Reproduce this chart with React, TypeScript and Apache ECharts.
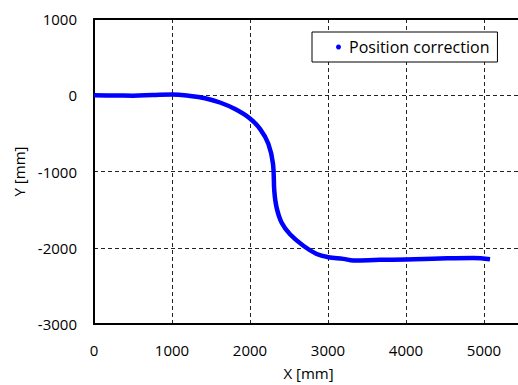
import React, { useEffect, useRef } from "react";
import * as echarts from "echarts";

const seriesName = "Position correction";
const xValues = [0, 250, 500, 750, 1000, 1231, 1423, 1615, 1808, 1991, 2128, 2235, 2295, 2312, 2342, 2406, 2513, 2684, 2855, 3004, 3197, 3325, 3667, 4009, 4436, 4863, 5077];
const yValues = [0, -3, -5, 2, 9, -9, -39, -95, -181, -298, -440, -635, -900, -1261, -1477, -1671, -1822, -1973, -2081, -2124, -2146, -2167, -2159, -2155, -2141, -2133, -2150];
const xTicks = { min: 0, max: 5500, interval: 1000 };
const yTicks = { min: -3000, max: 1000, interval: 1000 };

export default function App() {
  const ref = useRef<HTMLDivElement>(null);
  useEffect(() => {
    const chart = echarts.init(ref.current!, null, { renderer: "svg" });
    const font = "Open Sans";
    const data = xValues.map((x, i) => [x, yValues[i]]);
    const fmt = (v: number) => String(v);
    chart.setOption({
      animation: false,
      textStyle: { fontFamily: font },
      grid: { left: 94, top: 19, width: 429, height: 309, show: false },
      legend: {
        data: [{ name: seriesName, icon: "circle" }],
        left: 312,
        top: 32,
        orient: "horizontal",
        itemWidth: 5,
        itemHeight: 5,
        itemGap: 0,
        padding: [7, 8, 7, 24],
        borderColor: "#000",
        borderWidth: 1,
        backgroundColor: "#fff",
        textStyle: { fontFamily: font, fontSize: 16, color: "#000", padding: [0, 0, 0, 3] },
      },
      xAxis: [
        {
          type: "value",
          min: xTicks.min,
          max: xTicks.max,
          interval: xTicks.interval,
          name: "X [mm]",
          nameLocation: "middle",
          nameGap: 41,
          nameTextStyle: { fontFamily: font, fontSize: 15, color: "#000" },
          axisLine: { show: true, onZero: false, lineStyle: { color: "#000", width: 2 } },
          axisTick: { show: false },
          axisLabel: { fontFamily: font, fontSize: 15, color: "#000", margin: 18, showMaxLabel: false, formatter: fmt },
          splitLine: { show: true, lineStyle: { color: "#222", type: [4, 3], width: 1 } },
        },
        {
          type: "value",
          position: "top",
          min: xTicks.min,
          max: xTicks.max,
          interval: xTicks.interval,
          axisLine: { show: true, onZero: false, lineStyle: { color: "#000", width: 2 } },
          axisTick: { show: false },
          axisLabel: { show: false },
          splitLine: { show: false },
        },
      ],
      yAxis: {
        type: "value",
        min: yTicks.min,
        max: yTicks.max,
        interval: yTicks.interval,
        name: "Y [mm]",
        nameLocation: "middle",
        nameGap: 60,
        nameTextStyle: { fontFamily: font, fontSize: 15, color: "#000" },
        axisLine: { show: true, onZero: false, lineStyle: { color: "#000", width: 2 } },
        axisTick: { show: false },
        axisLabel: { fontFamily: font, fontSize: 15, color: "#000", margin: 17, formatter: fmt },
        splitLine: { show: true, lineStyle: { color: "#222", type: [4, 3], width: 1 } },
      },
      series: [
        {
          name: seriesName,
          type: "line",
          xAxisIndex: 0,
          data,
          smooth: 0.4,
          showSymbol: false,
          symbol: "circle",
          symbolSize: 5,
          itemStyle: { color: "#0000ff" },
          lineStyle: { color: "#0000ff", width: 4.5 },
        },
      ],
    });
    return () => chart.dispose();
  }, []);
  return (
    <div style={{ position: "absolute", left: 0, top: 0, width: 518, height: 385, overflow: "hidden" }}>
      <div ref={ref} style={{ position: "absolute", left: 0, top: 0, width: 540, height: 385 }} />
    </div>
  );
}
